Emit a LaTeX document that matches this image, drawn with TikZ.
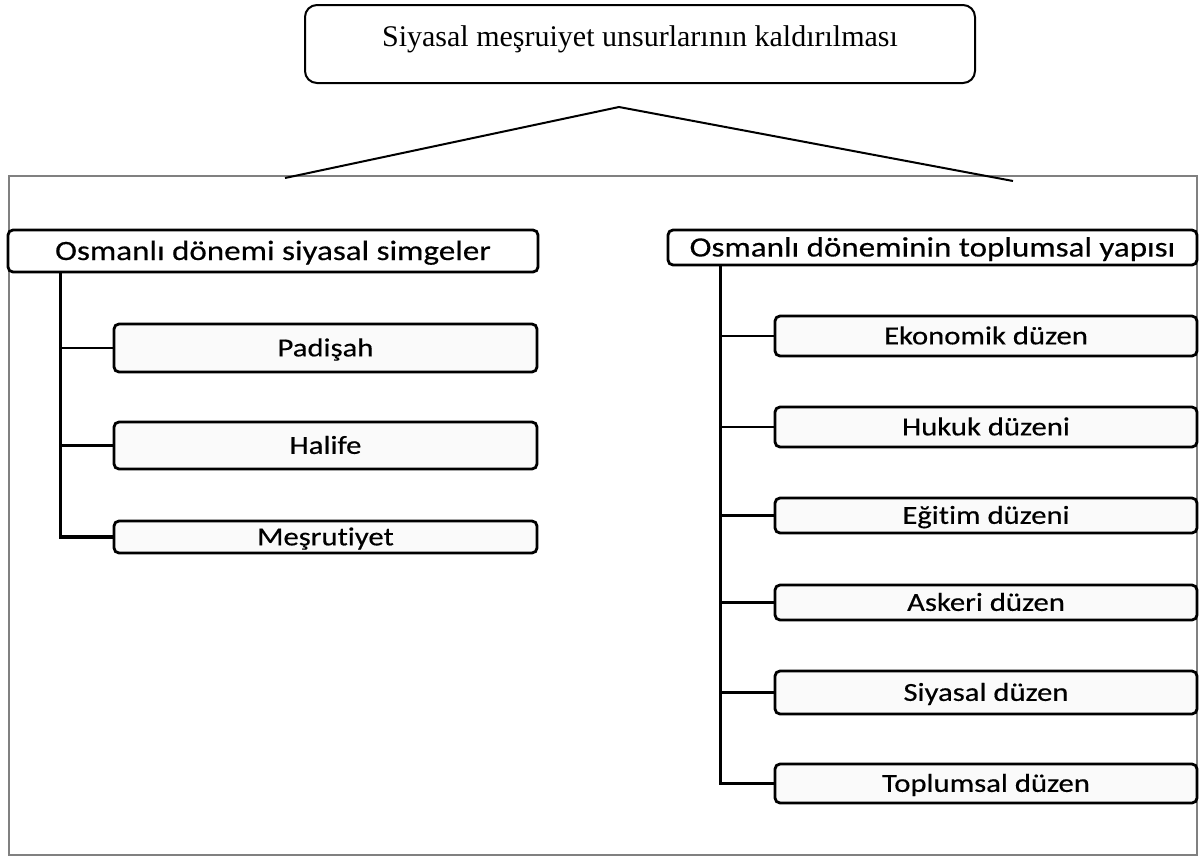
\documentclass[tikz,border=0pt]{standalone}
\usepackage{fontspec}
\setmainfont{Liberation Serif}
\newfontfamily\boxfont[FakeStretch=1.18, FakeBold=0.4, Ligatures=NoCommon]{Carlito}
\usetikzlibrary{positioning,calc}

\tikzset{
  topbox/.style={draw, line width=2pt, rounded corners=12pt, fill=white,
    minimum width=670pt, minimum height=78pt, inner sep=0pt,
    font=\fontsize{30}{36}\selectfont, text height=21pt, text depth=17pt},
  headbox/.style={draw, line width=2.8pt, rounded corners=5pt, fill=white,
    minimum width=530pt, inner sep=0pt,
    font=\boxfont\fontsize{28}{32}\selectfont, text height=18pt, text depth=0pt},
  itembox/.style={draw, line width=2.8pt, rounded corners=5pt, fill=black!2,
    minimum width=423pt, inner sep=0pt,
    font=\boxfont\fontsize{26}{30}\selectfont, text height=16.7pt, text depth=0pt},
  trunk/.style={line width=3.5pt},
  branch/.style={line width=2.5pt},
}

\begin{document}
\begin{tikzpicture}[x=1pt, y=-1pt]
  \useasboundingbox (0,0) rectangle (1199,857);
  % outer frame
  \draw[black!50, line width=1.5pt] (9,176) rectangle (1197,855);

  % top box and the two slanted lines
  \node[topbox] (top) at (640,44) {Siyasal meşruiyet unsurlarının kaldırılması};
  \coordinate (apex) at (619,107);
  \coordinate (lfoot) at (285,178);
  \coordinate (rfoot) at (1013,181);
  \draw[line width=2pt] (lfoot) -- (apex) -- (rfoot);

  % left branch
  \node[headbox, minimum height=42pt] (lhead) at (273,251) {Osmanlı dönemi siyasal simgeler};
  \foreach \n/\y/\h/\txt in {1/348/48/Padişah, 2/445.5/47/Halife, 3/537/32/Meşrutiyet}
    \node[itembox, minimum height=\h pt] (lc\n) at (325.5,\y) {\txt};
  \coordinate (ltrunk) at ($(lhead.south west)+(54,0)$);
  \draw[trunk] (ltrunk) |- (lc3.west);
  \foreach \n in {1,2}
    \draw[branch] (lc\n.west) -- (lc\n.west -| ltrunk);

  % right branch
  \node[headbox, minimum width=529pt, minimum height=35pt] (rhead) at (932.5,247.5) {Osmanlı döneminin toplumsal yapısı};
  \foreach \n/\y/\h/\txt in {1/336/40/Ekonomik düzen, 2/427/40/Hukuk düzeni,
      3/515.5/35/Eğitim düzeni, 4/602.5/35/Askeri düzen,
      5/692.5/43/Siyasal düzen, 6/783.5/39/Toplumsal düzen}
    \node[itembox, minimum width=422pt, minimum height=\h pt] (rc\n) at (986,\y) {\txt};
  \coordinate (rtrunk) at ($(rhead.south west)+(54,0)$);
  \draw[trunk] (rtrunk) |- (rc6.west);
  \foreach \n in {1,...,5}
    \draw[branch] (rc\n.west) -- (rc\n.west -| rtrunk);
\end{tikzpicture}
\end{document}
